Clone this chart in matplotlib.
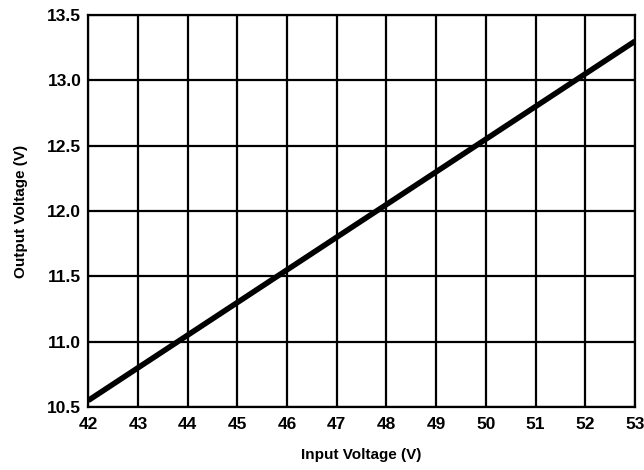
import numpy as np
import matplotlib.pyplot as plt

plt.rcParams['font.family'] = ['Liberation Sans', 'DejaVu Sans']
plt.rcParams['font.weight'] = 'bold'

# data
vin = [42, 53]
vout = [10.55, 13.3]
xticks = [42, 43, 44, 45, 46, 47, 48, 49, 50, 51, 52, 53]
yticks = [10.5, 11.0, 11.5, 12.0, 12.5, 13.0, 13.5]

fig = plt.figure(figsize=(6.44, 4.70), dpi=100)
ax = fig.add_axes([0.137, 0.134, 0.849, 0.834])

ax.plot(vin, vout, color='black', linewidth=4.0, solid_capstyle='butt', zorder=3)

ax.set_xlim(42, 53)
ax.set_ylim(10.5, 13.5)
ax.set_xticks(xticks)
ax.set_yticks(yticks)
ax.set_xticklabels([str(t) for t in xticks], fontsize=12.5, fontweight='bold')
ax.set_yticklabels(['%.1f' % t for t in yticks], fontsize=12.5, fontweight='bold')
ax.tick_params(axis='x', length=0, pad=7)
ax.tick_params(axis='y', length=0, pad=5)
ax.grid(True, color='black', linewidth=1.6)
for s in ax.spines.values():
    s.set_linewidth(1.6)

ax.set_xlabel('Input Voltage (V)', fontsize=11, fontweight='bold', labelpad=12)
ax.set_ylabel('Output Voltage (V)', fontsize=11, fontweight='bold', labelpad=14)

fig.savefig('out.png', dpi=100)
